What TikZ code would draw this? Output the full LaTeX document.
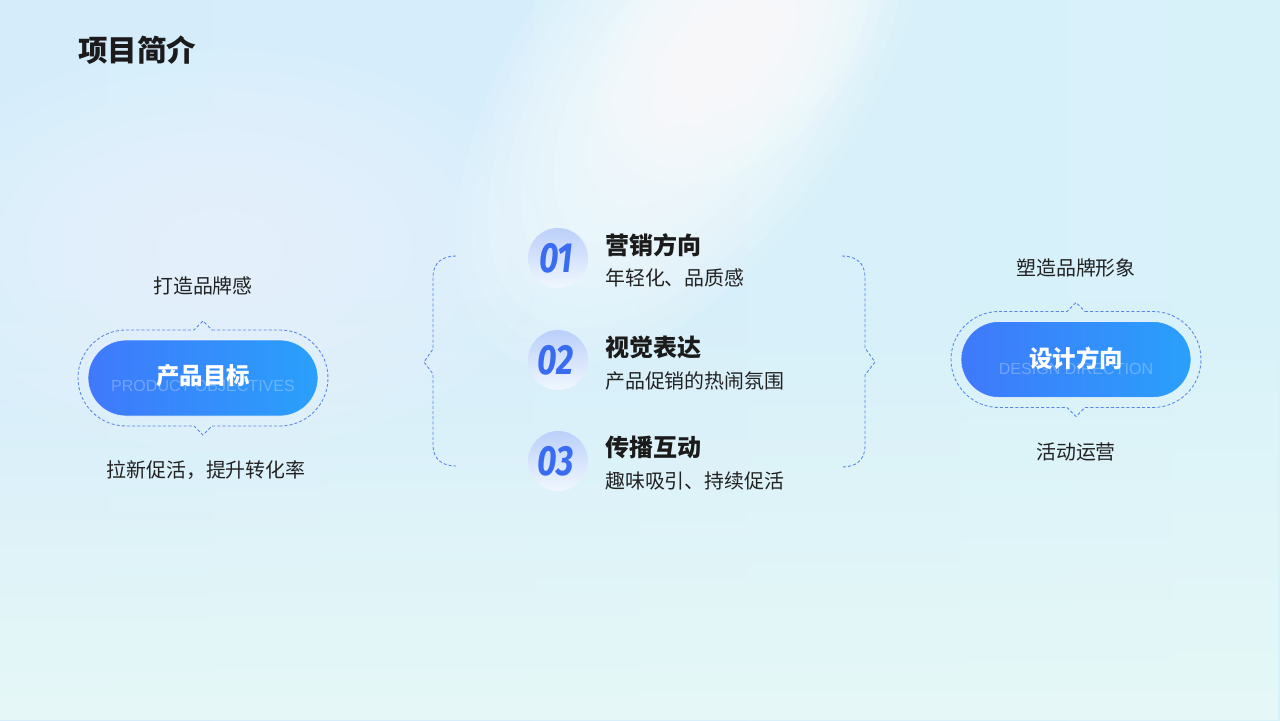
\documentclass[tikz,border=0pt]{standalone}
\usepackage{fontspec}
\usetikzlibrary{shapes.misc,fadings}
\newfontfamily\cjk{Noto Sans CJK SC}
\newfontfamily\enfont{Liberation Sans}
\newfontfamily\numfont{Fira Sans}[FakeStretch=0.8]
\definecolor{bgL}{HTML}{D5ECFB}
\definecolor{bgR}{HTML}{D8F2FA}
\definecolor{bgB}{HTML}{E6F8F7}
\definecolor{pillL}{HTML}{3F79FB}
\definecolor{pillR}{HTML}{2AA0FB}
\definecolor{dashc}{HTML}{5A86E8}
\definecolor{numc}{HTML}{3A6CF2}
\definecolor{circTop}{HTML}{BBCFFA}
\definecolor{circBot}{HTML}{F0F7FD}
\definecolor{txtdark}{HTML}{1B1B1B}
\definecolor{txtsub}{HTML}{222222}
\tikzfading[name=downfade, top color=transparent!100, bottom color=transparent!0]
\begin{document}
\begin{tikzpicture}[x=0.03cm,y=-0.03cm,
  pill/.style={shape=rounded rectangle, minimum width=6.9cm, minimum height=2.28cm,
    inner sep=0, left color=pillL, right color=pillR, draw=white, draw opacity=0.7, line width=0.7pt},
  pilltext/.style={font=\cjk\bfseries\fontsize{20}{24}\selectfont, text=white, inner sep=0},
  pillen/.style={font=\enfont\fontsize{13.7}{16}\selectfont, text=white, text opacity=0.28, inner sep=0},
  dashline/.style={draw=dashc, line width=0.75pt, dash pattern=on 2.6pt off 1.8pt},
  head/.style={font=\cjk\bfseries\fontsize{20.5}{24}\selectfont, text=txtdark, anchor=west, inner sep=0},
  sub/.style={font=\cjk\fontsize{17}{20}\selectfont, text=txtsub, anchor=west, inner sep=0},
  lab/.style={font=\cjk\fontsize{17}{20}\selectfont, text=txtsub, inner sep=0},
  numtext/.style={font=\numfont\bfseries\itshape\fontsize{36}{40}\selectfont, text=numc, inner sep=0},
  circ/.style={top color=circTop, bottom color=circBot}
]
\useasboundingbox (0,0) rectangle (1280,720);
% background
\shade[left color=bgL, right color=bgR] (0,0) rectangle (1280,720);
\fill[bgB, path fading=downfade] (0,300) rectangle (1280,720);
\foreach \s in {1.0,0.9,...,0.15}
  \fill[white, opacity=0.06] (220,250) ellipse ({320*\s} and {200*\s});
\begin{scope}[shift={(690,80)}, rotate=55]
  \foreach \s in {1.0,0.93,...,0.1}
    \fill[white, opacity=0.1] (0,0) ellipse ({330*\s} and {170*\s});
\end{scope}
\begin{scope}[shift={(740,40)}, rotate=45]
  \foreach \s in {1.0,0.9,...,0.1}
    \fill[white, opacity=0.12] (0,0) ellipse ({170*\s} and {110*\s});
\end{scope}
% title
\node[font=\cjk\bfseries\fontsize{25.2}{30}\selectfont, text=txtdark, anchor=west, inner sep=0] (title) at (78,50) {项目简介};
% left group
\begin{scope}[shift={(203,378)}]
\draw[dashline] (9,-48) -- (77,-48) .. controls (103.5,-48) and (125,-26.5) .. (125,0)
  .. controls (125,26.5) and (103.5,48) .. (77,48) -- (9,48) -- (0,57) -- (-9,48) -- (-77,48)
  .. controls (-103.5,48) and (-125,26.5) .. (-125,0) .. controls (-125,-26.5) and (-103.5,-48) .. (-77,-48)
  -- (-9,-48) -- (0,-57) -- cycle;
\end{scope}
\node[pill] (p1) at (203,378) {};
\node[pillen] (p1en) at (203,386) {PRODUCT OBJECTIVES};
\node[pilltext] (p1t) at (203,376) {产品目标};
\node[lab] (l1) at (203,286) {打造品牌感};
\node[lab] (l2) at (206,470) {拉新促活，提升转化率};
% right group
\begin{scope}[shift={(1076,359.5)}]
\draw[dashline] (9,-48) -- (77,-48) .. controls (103.5,-48) and (125,-26.5) .. (125,0)
  .. controls (125,26.5) and (103.5,48) .. (77,48) -- (9,48) -- (0,57) -- (-9,48) -- (-77,48)
  .. controls (-103.5,48) and (-125,26.5) .. (-125,0) .. controls (-125,-26.5) and (-103.5,-48) .. (-77,-48)
  -- (-9,-48) -- (0,-57) -- cycle;
\end{scope}
\node[pill] (p2) at (1076,359.5) {};
\node[pillen] (p2en) at (1076,369) {DESIGN DIRECTION};
\node[pilltext] (p2t) at (1076,358) {设计方向};
\node[lab] (r1) at (1076,268) {塑造品牌形象};
\node[lab] (r2) at (1076,452) {活动运营};
% braces
\draw[dashline] (456,256) .. controls (442,256) and (433,263) .. (433,277) -- (433,349)
  -- (424,362) -- (433,374) -- (433,445) .. controls (433,459) and (442,466) .. (456,466);
\draw[dashline] (842,256) .. controls (856,256) and (865,263) .. (865,277) -- (865,348)
  -- (875,362) -- (865,375) -- (865,446) .. controls (865,460) and (856,467) .. (842,467);
% items
\shade[circ] (558,258) circle (30);
\shade[circ] (558,360) circle (30);
\shade[circ] (558,461) circle (30);
\node[numtext] (n1) at (556,258) {01};
\node[numtext] (n2) at (556,360) {02};
\node[numtext] (n3) at (556,461) {03};
\node[head] (h1) at (605,245) {营销方向};
\node[sub] (s1) at (605,278) {年轻化、品质感};
\node[head] (h2) at (605,347) {视觉表达};
\node[sub] (s2) at (605,381) {产品促销的热闹氛围};
\node[head] (h3) at (605,447) {传播互动};
\node[sub] (s3) at (605,481) {趣味吸引、持续促活};
\end{tikzpicture}
\end{document}
